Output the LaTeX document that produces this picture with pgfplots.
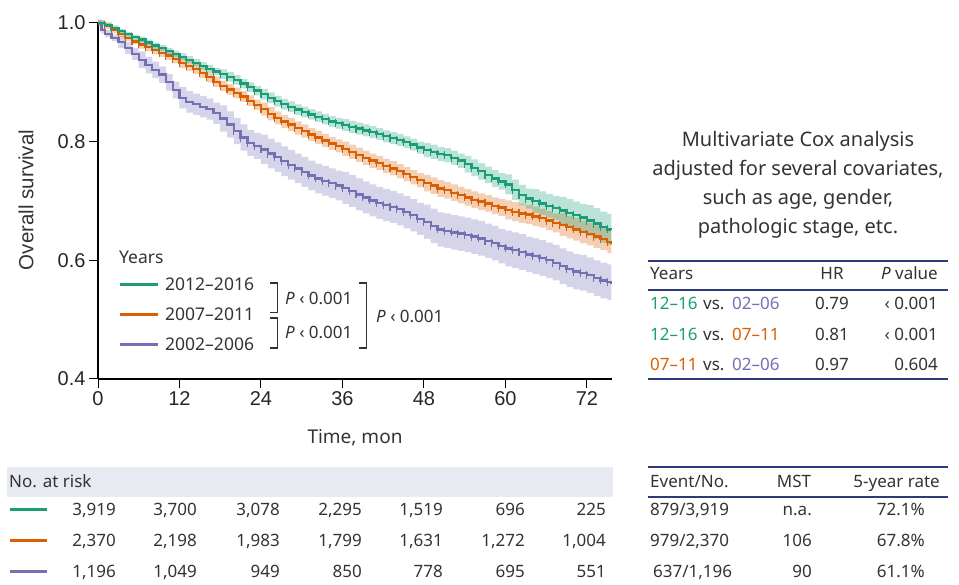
\documentclass[border=0pt]{standalone}
\usepackage{pgfplots}
\pgfplotsset{compat=1.18}
\usepgfplotslibrary{fillbetween}
\usepackage{pgfplotstable}
\usepackage{fontspec}
\setmainfont{Noto Sans}
\newfontfamily\arial{Liberation Sans}
\definecolor{cg}{HTML}{1B9E77}
\definecolor{co}{HTML}{D95F02}
\definecolor{cp}{HTML}{7570B3}
\definecolor{txt}{HTML}{333333}
\definecolor{navy}{HTML}{2E3A7E}
\definecolor{bandc}{HTML}{E8EAF2}

\pgfplotstableread{
t s e
0 1.000 0.004
1 0.997 0.004
2 0.992 0.004
3 0.986 0.004
4 0.981 0.004
5 0.976 0.004
6 0.972 0.005
7 0.967 0.005
8 0.962 0.005
9 0.958 0.005
10 0.953 0.005
11 0.948 0.005
12 0.943 0.006
13 0.938 0.006
14 0.933 0.006
15 0.928 0.006
16 0.923 0.006
17 0.918 0.006
18 0.914 0.008
19 0.909 0.008
20 0.904 0.008
21 0.898 0.008
22 0.892 0.008
23 0.886 0.008
24 0.880 0.009
25 0.874 0.009
26 0.868 0.009
27 0.863 0.009
28 0.859 0.009
29 0.854 0.009
30 0.850 0.009
31 0.846 0.009
32 0.842 0.009
33 0.838 0.009
34 0.834 0.009
35 0.831 0.009
36 0.828 0.010
37 0.825 0.010
38 0.822 0.010
39 0.819 0.010
40 0.816 0.010
41 0.813 0.010
42 0.809 0.010
43 0.806 0.010
44 0.803 0.010
45 0.799 0.010
46 0.795 0.010
47 0.790 0.010
48 0.786 0.012
49 0.783 0.012
50 0.779 0.012
51 0.777 0.012
52 0.773 0.012
53 0.768 0.012
54 0.762 0.014
55 0.756 0.014
56 0.750 0.014
57 0.744 0.014
58 0.738 0.014
59 0.733 0.014
60 0.728 0.017
61 0.719 0.017
62 0.710 0.017
63 0.704 0.017
64 0.700 0.020
65 0.696 0.020
66 0.692 0.020
67 0.688 0.020
68 0.684 0.023
69 0.680 0.023
70 0.676 0.023
71 0.672 0.023
72 0.667 0.026
73 0.662 0.026
74 0.656 0.026
75 0.652 0.026
75.6 0.651 0.026
}\green

\pgfplotstableread{
t s e
0 1.000 0.005
1 0.995 0.005
2 0.988 0.005
3 0.981 0.005
4 0.975 0.005
5 0.969 0.005
6 0.964 0.007
7 0.959 0.007
8 0.954 0.007
9 0.950 0.007
10 0.945 0.007
11 0.939 0.007
12 0.933 0.009
13 0.928 0.009
14 0.923 0.009
15 0.916 0.009
16 0.909 0.009
17 0.901 0.009
18 0.894 0.009
19 0.888 0.009
20 0.882 0.009
21 0.876 0.009
22 0.869 0.009
23 0.862 0.009
24 0.855 0.011
25 0.847 0.011
26 0.840 0.011
27 0.834 0.011
28 0.829 0.011
29 0.823 0.011
30 0.818 0.011
31 0.812 0.011
32 0.807 0.011
33 0.802 0.011
34 0.797 0.011
35 0.793 0.011
36 0.788 0.012
37 0.783 0.012
38 0.778 0.012
39 0.773 0.012
40 0.768 0.012
41 0.764 0.012
42 0.759 0.012
43 0.755 0.012
44 0.750 0.012
45 0.745 0.012
46 0.740 0.012
47 0.735 0.012
48 0.730 0.014
49 0.726 0.014
50 0.721 0.014
51 0.718 0.014
52 0.714 0.014
53 0.710 0.014
54 0.706 0.014
55 0.702 0.014
56 0.699 0.014
57 0.696 0.014
58 0.692 0.014
59 0.689 0.014
60 0.685 0.016
61 0.682 0.016
62 0.679 0.016
63 0.677 0.016
64 0.674 0.016
65 0.671 0.016
66 0.667 0.016
67 0.663 0.016
68 0.660 0.019
69 0.656 0.019
70 0.652 0.019
71 0.648 0.019
72 0.644 0.019
73 0.640 0.019
74 0.636 0.019
75 0.631 0.019
75.6 0.628 0.019
}\orange

\pgfplotstableread{
t s e
0 1.000 0.006
0.5 0.988 0.006
1 0.982 0.006
2 0.975 0.006
3 0.968 0.010
4 0.958 0.010
5 0.948 0.010
6 0.938 0.014
7 0.929 0.014
8 0.921 0.014
9 0.913 0.014
10 0.900 0.014
11 0.887 0.014
12 0.874 0.018
13 0.867 0.018
14 0.863 0.018
15 0.859 0.018
16 0.855 0.018
17 0.848 0.018
18 0.839 0.022
19 0.829 0.022
20 0.818 0.022
21 0.807 0.022
22 0.798 0.022
23 0.793 0.022
24 0.787 0.025
25 0.780 0.025
26 0.774 0.025
27 0.767 0.025
28 0.761 0.025
29 0.755 0.025
30 0.749 0.025
31 0.743 0.025
32 0.738 0.025
33 0.734 0.025
34 0.730 0.025
35 0.726 0.025
36 0.722 0.027
37 0.717 0.027
38 0.711 0.027
39 0.706 0.027
40 0.701 0.027
41 0.697 0.027
42 0.693 0.027
43 0.690 0.027
44 0.686 0.027
45 0.681 0.027
46 0.676 0.027
47 0.670 0.027
48 0.665 0.029
49 0.658 0.029
50 0.652 0.029
51 0.650 0.029
52 0.647 0.029
53 0.645 0.029
54 0.643 0.029
55 0.640 0.029
56 0.637 0.029
57 0.633 0.029
58 0.629 0.029
59 0.624 0.029
60 0.620 0.030
61 0.617 0.030
62 0.614 0.030
63 0.610 0.030
64 0.607 0.030
65 0.604 0.030
66 0.600 0.030
67 0.596 0.030
68 0.590 0.030
69 0.585 0.030
70 0.581 0.030
71 0.579 0.030
72 0.575 0.030
73 0.570 0.030
74 0.566 0.030
75 0.563 0.030
75.6 0.560 0.030
}\purple

\begin{document}
\begin{tikzpicture}[x=1pt,y=1pt]
\begin{axis}[
  at={(98pt,206pt)}, anchor=south west,
  scale only axis, width=514pt, height=356pt,
  xmin=0, xmax=75.7, ymin=0.4, ymax=1.0,
  axis x line*=bottom, axis y line*=left,
  xtick={0,12,24,36,48,60,72},
  ytick={0.4,0.6,0.8,1.0},
  /pgf/number format/assume math mode=true,
  yticklabel style={/pgf/number format/.cd,fixed,fixed zerofill,precision=1,assume math mode=true},
  tick align=outside, major tick length=9pt,
  tick style={line width=1pt, black},
  axis line style={line width=1.2pt, black},
  ticklabel style={font=\arial\fontsize{20}{24}\selectfont, text=black!85},
  clip=false,
]
\addplot[name path=pU, draw=none, const plot, forget plot] table[x=t, y expr=\thisrow{s}+\thisrow{e}] {\purple};
\addplot[name path=pL, draw=none, const plot, forget plot] table[x=t, y expr=\thisrow{s}-\thisrow{e}] {\purple};
\addplot[cp, fill opacity=0.3, draw=none] fill between[of=pU and pL];
\addplot[name path=oU, draw=none, const plot, forget plot] table[x=t, y expr=\thisrow{s}+\thisrow{e}] {\orange};
\addplot[name path=oL, draw=none, const plot, forget plot] table[x=t, y expr=\thisrow{s}-\thisrow{e}] {\orange};
\addplot[co, fill opacity=0.3, draw=none] fill between[of=oU and oL];
\addplot[name path=gU, draw=none, const plot, forget plot] table[x=t, y expr=\thisrow{s}+\thisrow{e}] {\green};
\addplot[name path=gL, draw=none, const plot, forget plot] table[x=t, y expr=\thisrow{s}-\thisrow{e}] {\green};
\addplot[cg, fill opacity=0.3, draw=none] fill between[of=gU and gL];

\addplot[cp, line width=2.3pt, const plot, no marks] table[x=t, y=s] {\purple};
\addplot[co, line width=2.3pt, const plot, no marks] table[x=t, y=s] {\orange};
\addplot[cg, line width=2.3pt, const plot, no marks] table[x=t, y=s] {\green};
\addplot[cp, only marks, mark=|, mark size=4pt, mark options={line width=1.1pt}, restrict x to domain=20:75] table[x=t, y=s] {\purple};
\addplot[co, only marks, mark=|, mark size=4pt, mark options={line width=1.1pt}, restrict x to domain=1:75] table[x=t, y=s] {\orange};
\addplot[cg, only marks, mark=|, mark size=4pt, mark options={line width=1.1pt}, restrict x to domain=1:75] table[x=t, y=s] {\green};
\end{axis}

% axis labels
\node[rotate=90, text=txt, font=\arial\fontsize{20.5}{24}\selectfont] at (26,385) {Overall survival};
\node[text=txt, font=\fontsize{19}{23}\selectfont] at (355,147) {Time, mon};

% legend
\begin{scope}[every node/.style={text=txt, font=\fontsize{17.5}{22}\selectfont, inner sep=0pt}]
\node[anchor=west] at (119,328) {Years};
\draw[cg, line width=3pt] (120,300) -- (158,300);
\draw[co, line width=3pt] (120,270) -- (158,270);
\draw[cp, line width=3pt] (120,240) -- (158,240);
\node[anchor=west] at (165,301) {2012–2016};
\node[anchor=west] at (165,271) {2007–2011};
\node[anchor=west] at (165,241) {2002–2006};
\end{scope}
\draw[txt, line width=1.2pt] (270,302) -- (277.5,302) -- (277.5,272.3) -- (270,272.3);
\draw[txt, line width=1.2pt] (270,267) -- (277.5,267) -- (277.5,237) -- (270,237);
\draw[txt, line width=1.2pt] (359,302) -- (366.5,302) -- (366.5,237) -- (359,237);
\begin{scope}[every node/.style={text=txt, font=\fontsize{17}{20}\selectfont, inner sep=0pt, anchor=west}]
\node at (285,287) {\textit{P} ‹ 0.001};
\node at (285,253) {\textit{P} ‹ 0.001};
\node at (376,269) {\textit{P} ‹ 0.001};
\end{scope}

% right block
\node[text=txt, align=center, font=\fontsize{20}{29}\selectfont] at (798,400.5) {Multivariate Cox analysis\\adjusted for several covariates,\\such as age, gender,\\pathologic stage, etc.};
\draw[navy, line width=2pt] (648,323.5) -- (948,323.5);
\draw[navy, line width=2pt] (648,295) -- (948,295);
\draw[navy, line width=2pt] (648,206) -- (948,206);
\begin{scope}[every node/.style={text=txt, font=\fontsize{17}{20}\selectfont, inner sep=0pt}]
\node[anchor=base west] at (650,305) {Years};
\node[anchor=base] at (832,305) {HR};
\node[anchor=base east] at (938,305) {\textit{P} value};
\node[anchor=base west, text=cg] at (650,275) {12–16};
\node[anchor=base west] at (703,275) {vs.};
\node[anchor=base west, text=cp] at (732,275) {02–06};
\node[anchor=base] at (832,275) {0.79};
\node[anchor=base east] at (938,275) {‹ 0.001};
\node[anchor=base west, text=cg] at (650,244) {12–16};
\node[anchor=base west] at (703,244) {vs.};
\node[anchor=base west, text=co] at (732,244) {07–11};
\node[anchor=base] at (832,244) {0.81};
\node[anchor=base east] at (938,244) {‹ 0.001};
\node[anchor=base west, text=co] at (650,214) {07–11};
\node[anchor=base west] at (703,214) {vs.};
\node[anchor=base west, text=cp] at (732,214) {02–06};
\node[anchor=base] at (832,214) {0.97};
\node[anchor=base east] at (938,214) {0.604};
\end{scope}

% risk table
\fill[bandc] (7,88) rectangle (613,118);
\draw[cg, line width=3pt] (10,75) -- (47,75);
\draw[co, line width=3pt] (10,44) -- (47,44);
\draw[cp, line width=3pt] (10,13) -- (47,13);
\begin{scope}[every node/.style={text=txt, font=\fontsize{17}{20}\selectfont, inner sep=0pt, anchor=base east}]
\node[anchor=base west] at (9,97) {No. at risk};
\node at (116,69) {3,919}; \node at (197,69) {3,700}; \node at (280,69) {3,078}; \node at (362,69) {2,295}; \node at (443,69) {1,519}; \node at (525,69) {696}; \node at (606,69) {225};
\node at (116,38) {2,370}; \node at (197,38) {2,198}; \node at (280,38) {1,983}; \node at (362,38) {1,799}; \node at (443,38) {1,631}; \node at (525,38) {1,272}; \node at (606,38) {1,004};
\node at (116,7) {1,196}; \node at (197,7) {1,049}; \node at (280,7) {949}; \node at (362,7) {850}; \node at (443,7) {778}; \node at (525,7) {695}; \node at (606,7) {551};
\end{scope}
\draw[navy, line width=2pt] (648,118) -- (948,118);
\draw[navy, line width=2pt] (648,88) -- (948,88);
\begin{scope}[every node/.style={text=txt, font=\fontsize{17}{20}\selectfont, inner sep=0pt, anchor=base east}]
\node[anchor=base west] at (650,97) {Event/No.};
\node[anchor=base] at (794,97) {MST};
\node at (940,97) {5-year rate};
\node[anchor=base west] at (650,69) {879/3,919}; \node at (812,69) {n.a.}; \node at (925,69) {72.1\%};
\node[anchor=base west] at (650,38) {979/2,370}; \node at (812,38) {106}; \node at (925,38) {67.8\%};
\node[anchor=base west] at (653,7) {637/1,196}; \node at (812,7) {90}; \node at (925,7) {61.1\%};
\end{scope}
\pgfresetboundingbox
\path (0,0) rectangle (959,585);
\end{tikzpicture}
\end{document}
